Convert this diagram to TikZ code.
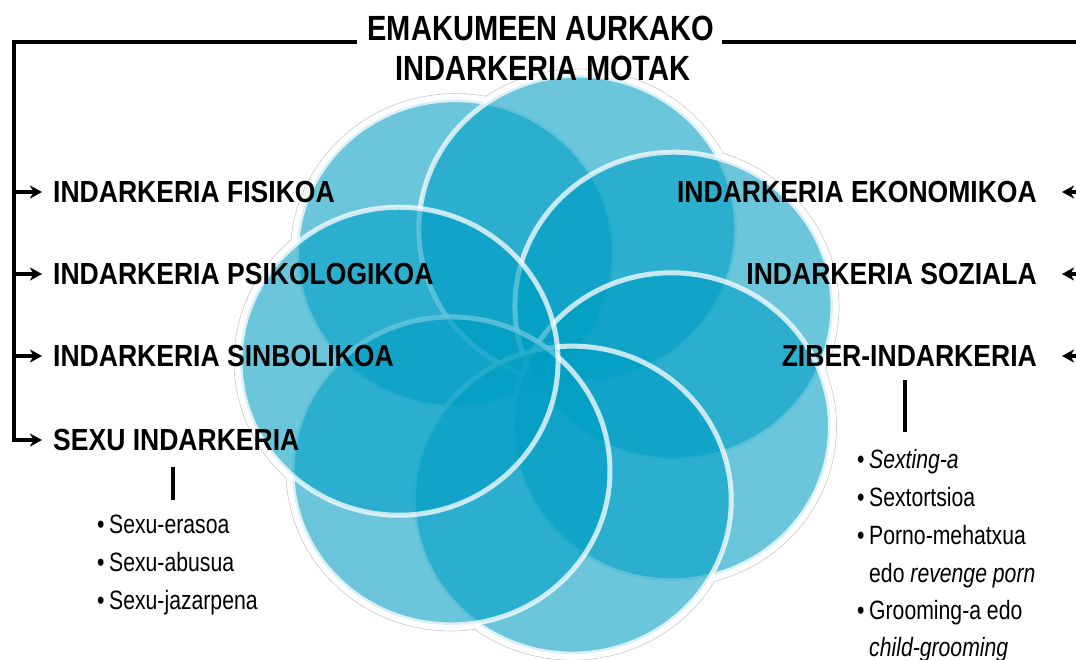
\documentclass[tikz,border=0pt]{standalone}
\usepackage{fontspec}
\setmainfont{Liberation Sans}
\newfontfamily\labfont{Liberation Sans}[FakeStretch=0.87]
\newfontfamily\titlefont{Liberation Sans}[FakeStretch=0.83]
\newfontfamily\listfont{Liberation Sans}[FakeStretch=0.8]
\usetikzlibrary{arrows.meta,calc}
\definecolor{petal}{RGB}{0,158,196}
\newcommand\bul{\makebox[12pt][l]{\textbullet}}
\newcommand\nobul{\hspace*{12pt}}
\begin{document}
\begin{tikzpicture}[x=1pt,y=-1pt,
  lab/.style={font=\labfont\bfseries\fontsize{30.5}{36}\selectfont, inner sep=0pt, text=black},
  ttl/.style={font=\titlefont\bfseries\fontsize{35}{40}\selectfont, inner sep=0pt, text=black},
  lst/.style={font=\listfont\fontsize{26.5}{30}\selectfont, inner sep=0pt, anchor=base west, text=black},
  frameline/.style={draw=black, line width=4.4pt},
  arr/.style={-{Stealth[length=12pt,width=13pt,inset=3.5pt]}, line width=3.8pt},
  subl/.style={draw=black, line width=3.6pt},
  halo/.style={draw=black!20, line width=0.8pt},
  haloin/.style={fill=white},
  petalc/.style={fill=petal, fill opacity=0.58, draw=white, draw opacity=0.75, line width=5pt}]
\useasboundingbox (0,0) rectangle (1076,659);
\begin{scope}
\clip (0,0) rectangle (1076,659);
\foreach \k in {-1,0,...,5}{
  \pgfmathsetmacro\ang{76-51.4286*\k}
  \path[halo] ({543+144*cos(\ang)},{364-139*sin(\ang)}) ellipse [x radius=165, y radius=160];
}
\foreach \k in {-1,0,...,5}{
  \pgfmathsetmacro\ang{76-51.4286*\k}
  \path[haloin] ({543+144*cos(\ang)},{364-139*sin(\ang)}) ellipse [x radius=164.5, y radius=159.5];
}
\foreach \k in {-1,0,...,5}{
  \pgfmathsetmacro\ang{76-51.4286*\k}
  \path[petalc] ({543+144*cos(\ang)},{364-139*sin(\ang)}) ellipse [x radius=159, y radius=154];
}
\end{scope}

% title
\node[ttl] (t1) at (541,28) {EMAKUMEEN AURKAKO};
\node[ttl] (t2) at (543,68) {INDARKERIA MOTAK};

% labels
\node[lab, anchor=west] (fis) at (53,192) {INDARKERIA FISIKOA};
\node[lab, anchor=west] (psi) at (53,274) {INDARKERIA PSIKOLOGIKOA};
\node[lab, anchor=west] (sin) at (53,356) {INDARKERIA SINBOLIKOA};
\node[lab, anchor=west] (sex) at (53,440) {SEXU INDARKERIA};
\node[lab, anchor=east] (eko) at (1037,192) {INDARKERIA EKONOMIKOA};
\node[lab, anchor=east] (soz) at (1037,274) {INDARKERIA SOZIALA};
\node[lab, anchor=east] (zib) at (1037,356) {ZIBER-INDARKERIA};

% frame
\coordinate (l0) at (357,42);
\coordinate (lt) at (14,42);
\coordinate (r0) at (722,42);
\coordinate (rt) at (1092,42);
\draw[frameline, arr] (l0) -- (lt) |- ($(sex.west)+(-11,0)$);
\draw[frameline, arr] (lt |- fis.west) -- ($(fis.west)+(-11,0)$);
\draw[frameline, arr] (lt |- psi.west) -- ($(psi.west)+(-11,0)$);
\draw[frameline, arr] (lt |- sin.west) -- ($(sin.west)+(-11,0)$);
\draw[frameline] (r0) -- (rt) -- (rt |- zib.east);
\draw[frameline, arr] (rt |- eko.east) -- ($(eko.east)+(25,0)$);
\draw[frameline, arr] (rt |- soz.east) -- ($(soz.east)+(25,0)$);
\draw[frameline, arr] (rt |- zib.east) -- ($(zib.east)+(25,0)$);

% sub lines
\coordinate (sa) at (173,467);
\coordinate (sb) at (173,500);
\coordinate (za) at (905,380);
\coordinate (zb) at (905,432);
\draw[subl] (sa) -- (sb);
\draw[subl] (za) -- (zb);

% lists
\node[lst] (a1) at (97,533) {\bul Sexu-erasoa};
\node[lst] (a2) at (97,571) {\bul Sexu-abusua};
\node[lst] (a3) at (97,609) {\bul Sexu-jazarpena};

\node[lst] (b1) at (857,468) {\bul\textit{Sexting-a}};
\node[lst] (b2) at (857,506) {\bul Sextortsioa};
\node[lst] (b3) at (857,544) {\bul Porno-mehatxua};
\node[lst] (b4) at (857,582) {\nobul edo \textit{revenge porn}};
\node[lst] (b5) at (857,619) {\bul Grooming-a edo};
\node[lst] (b6) at (857,656) {\nobul\textit{child-grooming}};
\end{tikzpicture}
\end{document}
